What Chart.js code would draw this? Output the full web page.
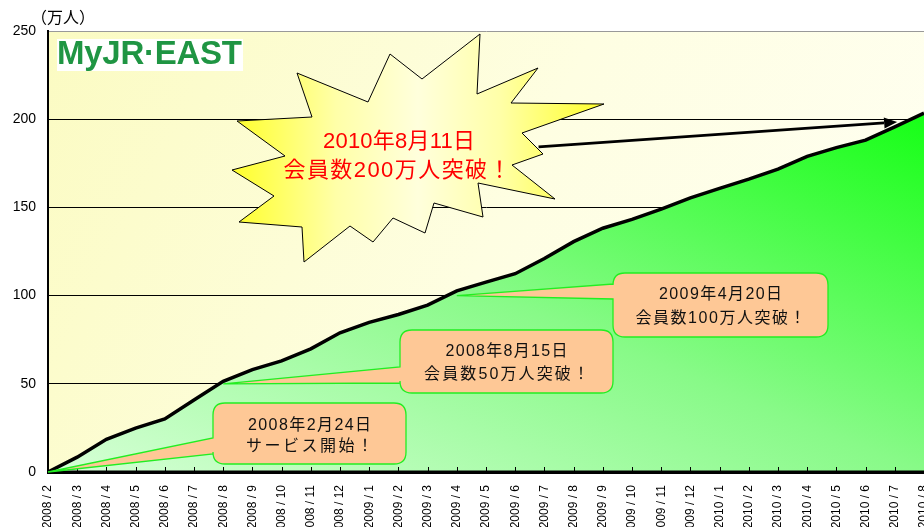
<!DOCTYPE html>
<html><head><meta charset="utf-8">
<script src="https://cdn.jsdelivr.net/npm/chart.js@4.4.1/dist/chart.umd.min.js"></script>
<style>
html,body{margin:0;padding:0;background:#fff;overflow:hidden;width:924px;height:527px}
#wrap{position:absolute;left:0;top:0;width:930px;height:545px}
</style>
</head><body>
<div id="wrap"><canvas id="c" width="930" height="545"></canvas></div>
<script>
// ---- data ----
const months = ['2008 / 2','2008 / 3','2008 / 4','2008 / 5','2008 / 6','2008 / 7','2008 / 8','2008 / 9','2008 / 10','2008 / 11','2008 / 12',
  '2009 / 1','2009 / 2','2009 / 3','2009 / 4','2009 / 5','2009 / 6','2009 / 7','2009 / 8','2009 / 9','2009 / 10','2009 / 11','2009 / 12',
  '2010 / 1','2010 / 2','2010 / 3','2010 / 4','2010 / 5','2010 / 6','2010 / 7','2010 / 8'];
const members = [0, 8.4, 18.5, 24.9, 30.1, 40.8, 51.4, 58, 63, 69.8, 78.9,
  84.8, 89.3, 94.6, 102.7, 107.6, 112.4, 121, 130.6, 138.2, 143.2, 149, 155.4,
  160.8, 166, 171.7, 178.9, 183.9, 188.1, 195.7, 203.4];
const yMin = 0, yMax = 250, yStep = 50;
const unitLabel = '（万人）';
const logoText = 'MyJR·EAST';
const calloutLines = [['2008年2月24日','サービス開始！'], ['2008年8月15日','会員数50万人突破！'], ['2009年4月20日','会員数100万人突破！']];
const calloutIndex = [0, 6, 14];
const calloutValue = [0, 50, 100];
const headlineLines = ['2010年8月11日','会員数200万人突破！'];
const arrowTail = [16.8, 184.3];
const arrowTip = [29.08, 198.4];

const FONT = "'Liberation Sans','Noto Sans CJK JP',Arial,sans-serif";

function fitText(ctx, text, cx, cy, width, font, color) {
  ctx.save();
  ctx.font = font; ctx.fillStyle = color; ctx.textBaseline = 'middle'; ctx.textAlign = 'left';
  ctx.letterSpacing = '0px';
  const w = ctx.measureText(text).width;
  const n = [...text].length;
  const ls = n > 1 ? (width - w) / (n - 1) : 0;
  ctx.letterSpacing = ls + 'px';
  ctx.fillText(text, cx - width / 2, cy);
  ctx.restore();
}

const bgPlugin = {
  id: 'bg',
  beforeDraw(chart) {
    const {ctx, chartArea: a} = chart;
    const g = ctx.createLinearGradient(a.left, a.top, a.right, a.bottom);
    g.addColorStop(0, '#fbfbc2');
    g.addColorStop(0.5, '#fefee2');
    g.addColorStop(1, '#fffff4');
    ctx.save(); ctx.fillStyle = g;
    ctx.fillRect(a.left, a.top, a.right - a.left, a.bottom - a.top);
    ctx.restore();
  }
};

function callout(ctx, box, tip, baseY, lines, widths, lineY) {
  const {x, y, w, h} = box, r = 12;
  ctx.save();
  ctx.beginPath();
  ctx.moveTo(x + r, y);
  ctx.lineTo(x + w - r, y);
  ctx.quadraticCurveTo(x + w, y, x + w, y + r);
  ctx.lineTo(x + w, y + h - r);
  ctx.quadraticCurveTo(x + w, y + h, x + w - r, y + h);
  ctx.lineTo(x + r, y + h);
  ctx.quadraticCurveTo(x, y + h, x, y + h - r);
  ctx.lineTo(x, baseY[1]);
  ctx.lineTo(tip[0], tip[1]);
  ctx.lineTo(x, baseY[0]);
  ctx.lineTo(x, y + r);
  ctx.quadraticCurveTo(x, y, x + r, y);
  ctx.closePath();
  ctx.fillStyle = '#fec896';
  ctx.fill();
  ctx.strokeStyle = '#22ee22'; ctx.lineWidth = 1.3;
  ctx.stroke();
  ctx.restore();
  lines.forEach((t, i) => fitText(ctx, t, x + w / 2, lineY[i], widths[i], '16px ' + FONT, '#111'));
}

const annotPlugin = {
  id: 'annot',
  afterDatasetsDraw(chart) {
    const {ctx, chartArea: a, scales: {x: xs, y: ys}} = chart;
    const P = (i, v) => [xs.getPixelForValue(0) + i * (xs.getPixelForValue(1) - xs.getPixelForValue(0)), ys.getPixelForValue(v)];
    ctx.save();
    // axes
    ctx.strokeStyle = '#000';
    ctx.lineWidth = 3;
    ctx.beginPath(); ctx.moveTo(a.left - 1, a.bottom); ctx.lineTo(a.right + 10, a.bottom); ctx.stroke();
    ctx.lineWidth = 1;
    for (let i = 0; i < months.length; i++) {
      const px = Math.round(xs.getPixelForValue(i)) + 0.5;
      ctx.beginPath(); ctx.moveTo(px, a.bottom - 5); ctx.lineTo(px, a.bottom); ctx.stroke();
    }
    ctx.restore();

    // callouts
    const boxes = [{x:213,y:403,w:193,h:61},{x:400,y:330,w:213,h:63},{x:613,y:273,w:215,h:64}];
    const bases = [[438,454],[367,383],[284,299]];
    const widths = [[123,127],[122,165],[123,170]];
    const lys = [[425.5,447],[351.5,375],[295,318.5]];
    for (let k = 0; k < 3; k++) {
      callout(ctx, boxes[k], P(calloutIndex[k], calloutValue[k]), bases[k], calloutLines[k], widths[k], lys[k]);
    }

    // explosion
    const c = [420, 150];
    const pts = [[60,-116],[57,-56],[118,-82],[91,-47],[184,-46],[102,-17],[123,4],[92,15],[135,49],[58,33],[63,67],[14,53],[5,83],[-27,68],[-47,92],[-70,76],[-116,112],[-118,77],[-181,72],[-146,46],[-188,20],[-135,6],[-183,-29],[-108,-33],[-123,-77],[-52,-48],[-30,-96],[2,-71]];
    ctx.save();
    ctx.beginPath();
    pts.forEach((p, i) => { const X = c[0] + p[0], Y = c[1] + p[1]; i ? ctx.lineTo(X, Y) : ctx.moveTo(X, Y); });
    ctx.closePath();
    const g = ctx.createLinearGradient(c[0] - 188, 0, c[0] + 184, 0);
    g.addColorStop(0, '#ffff2a');
    g.addColorStop(0.28, '#ffffa8');
    g.addColorStop(0.5, '#ffffdc');
    g.addColorStop(0.72, '#ffffa8');
    g.addColorStop(1, '#ffff2a');
    ctx.fillStyle = g; ctx.fill();
    ctx.strokeStyle = '#000'; ctx.lineWidth = 1; ctx.stroke();
    ctx.restore();
    fitText(ctx, headlineLines[0], 399, 142, 152, '22px ' + FONT, '#ff0000');
    fitText(ctx, headlineLines[1], 397, 170.5, 227, '22px ' + FONT, '#ff0000');

    // arrow
    const t0 = P(arrowTail[0], arrowTail[1]), t1 = P(arrowTip[0], arrowTip[1]);
    const ang = Math.atan2(t1[1] - t0[1], t1[0] - t0[0]);
    const hl = 13, hw = 5.5;
    const bx = t1[0] - hl * Math.cos(ang), by = t1[1] - hl * Math.sin(ang);
    ctx.save();
    ctx.strokeStyle = '#000'; ctx.lineWidth = 2.7;
    ctx.beginPath(); ctx.moveTo(t0[0], t0[1]); ctx.lineTo(bx, by); ctx.stroke();
    ctx.fillStyle = '#000';
    ctx.beginPath();
    ctx.moveTo(t1[0], t1[1]);
    ctx.lineTo(bx + hw * Math.sin(ang), by - hw * Math.cos(ang));
    ctx.lineTo(bx - hw * Math.sin(ang), by + hw * Math.cos(ang));
    ctx.closePath(); ctx.fill();
    ctx.restore();

    // logo
    ctx.save();
    ctx.fillStyle = '#ffffff';
    ctx.fillRect(57, 39, 186, 32);
    ctx.restore();
    fitText(ctx, logoText, 149.5, 55, 185, 'bold 33px ' + FONT, '#1f9543');

    // unit label
    fitText(ctx, unitLabel, 63, 17, 64, "16px 'Noto Sans CJK JP','Liberation Sans',sans-serif", '#000');
  }
};

const ctx = document.getElementById('c').getContext('2d');
new Chart(ctx, {
  type: 'line',
  data: {
    labels: months,
    datasets: [{
      data: members,
      borderColor: '#000',
      borderWidth: 3.5,
      pointRadius: 0,
      tension: 0,
      fill: 'origin',
      backgroundColor: (context) => {
        const chart = context.chart, a = chart.chartArea;
        if (!a) return '#80f880';
        const top = chart.scales.y.getPixelForValue(Math.max(...members));
        const bw = a.right - a.left, bh = a.bottom - top;
        const dx = bh, dy = -bw;
        const t = (2 * bw * bh) / (bw * bw + bh * bh);
        const g = chart.ctx.createLinearGradient(a.left, a.bottom, a.left + t * dx, a.bottom + t * dy);
        g.addColorStop(0, '#d6ffd6');
        g.addColorStop(0.5, '#88fa88');
        g.addColorStop(1, '#16ff16');
        return g;
      }
    }]
  },
  options: {
    responsive: false,
    animation: false,
    devicePixelRatio: 1,
    layout: {padding: {top: 31, right: 6, left: 0, bottom: 0}},
    plugins: {legend: {display: false}, tooltip: {enabled: false}},
    scales: {
      x: {
        type: 'category', offset: false,
        grid: {display: false, drawTicks: false},
        border: {display: true, color: '#000', width: 3},
        ticks: {autoSkip: false, maxRotation: 90, minRotation: 90, padding: 13, color: '#000', font: {family: FONT, size: 12}},
        afterFit(s) { s.height = 73; s.paddingLeft = 0; s.paddingRight = 0; }
      },
      y: {
        min: yMin, max: yMax,
        ticks: {stepSize: yStep, padding: 12, color: '#000', font: {family: FONT, size: 14}},
        grid: {
          drawTicks: false, lineWidth: 1,
          color: (c) => c.tick.value === yMax ? '#999999' : (c.tick.value === yMin ? 'rgba(0,0,0,0)' : '#000000')
        },
        border: {display: true, color: '#000', width: 2},
        afterFit(s) { s.width = 48; }
      }
    }
  },
  plugins: [bgPlugin, annotPlugin]
});
</script>
</body></html>
